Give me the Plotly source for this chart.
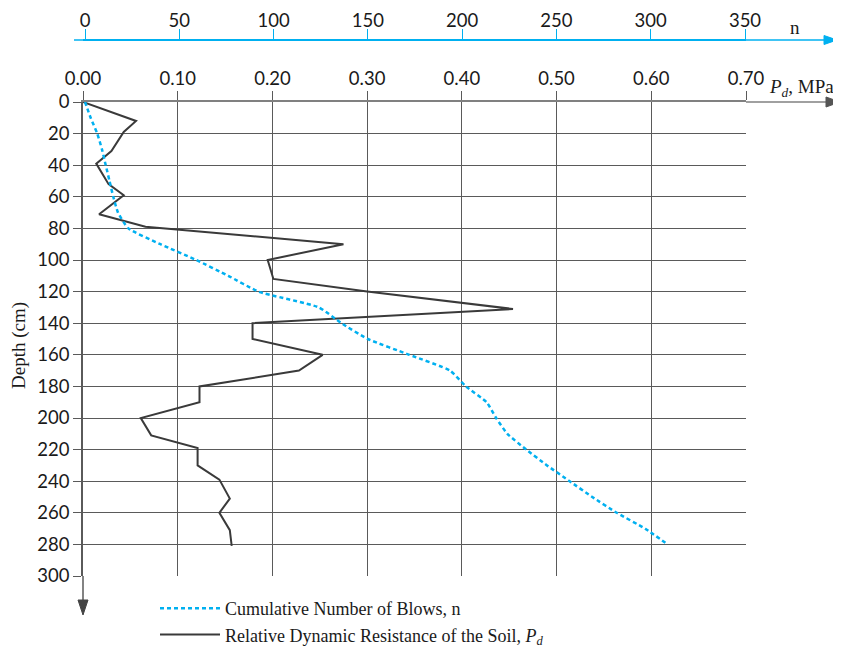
import plotly.graph_objects as go

# relative dynamic resistance Pd (MPa) vs depth (cm)
depth_pd = [0, 12, 19, 31, 39, 52, 59, 71, 79, 90, 100, 112, 120, 131, 140, 150,
            160, 170, 180, 190, 200, 211, 219, 230, 239, 251, 260, 271, 281]
pd_vals = [0.000, 0.056, 0.043, 0.030, 0.014, 0.027, 0.043, 0.017, 0.066, 0.275,
           0.195, 0.201, 0.300, 0.454, 0.179, 0.179, 0.253, 0.228, 0.123, 0.123,
           0.061, 0.072, 0.121, 0.121, 0.144, 0.155, 0.144, 0.155, 0.157]

# cumulative number of blows n vs depth (cm)
depth_n = [0, 10, 20, 30, 40, 50, 60, 70, 80, 90, 100, 110, 120, 130, 140, 150,
           160, 170, 180, 190, 200, 210, 220, 230, 240, 250, 260, 270, 280]
n_vals = [0, 3, 6.5, 9, 11, 13, 15, 17.5, 23, 40, 59, 76, 92, 124, 136, 150,
          172, 193.6, 202, 213, 218, 224, 234, 245, 257, 269, 282, 297, 309]

pd_ticks = [0.0, 0.1, 0.2, 0.3, 0.4, 0.5, 0.6, 0.7]
n_ticks = [0, 50, 100, 150, 200, 250, 300, 350]
depth_ticks = list(range(0, 301, 20))

BLUE = "#00B0F0"
DARK = "#3a3a3a"
GRID = "#5a5a5a"
TICKFONT = dict(family="Lato", size=18.5, color="#1a1a1a")
SERIF = "Liberation Serif"

# the page puts the figure 8px in from the window corner
OFF = 8
W, H = 833, 640
L, R, T, B = 75, 5, 22, 0
def fx(px):
    return (px - OFF - L) / (W - L - R)
def fy(py):
    return 1 - (py - OFF - T) / (H - T - B)

fig = go.Figure()
fig.add_trace(go.Scatter(x=n_vals, y=depth_n, xaxis="x2", yaxis="y", mode="lines",
                         name="Cumulative Number of Blows, n",
                         line=dict(color=BLUE, width=2.5, dash="4px,3px", shape="spline", smoothing=0.5)))
fig.add_trace(go.Scatter(x=pd_vals, y=depth_pd, xaxis="x", yaxis="y", mode="lines",
                         name="Relative Dynamic Resistance of the Soil, <i>P<sub>d</sub></i>",
                         line=dict(color=DARK, width=2)))

n_lo = -2 / 1.8857
n_hi = 350 + 1 / 1.8857

fig.update_layout(
    width=W, height=H,
    margin=dict(l=L, r=R, t=T, b=B, autoexpand=False),
    paper_bgcolor="white", plot_bgcolor="white",
    showlegend=True,
    legend=dict(x=fx(155), y=fy(590), xanchor="left", yanchor="top",
                font=dict(family=SERIF, size=18, color="#1a1a1a"),
                bgcolor="rgba(0,0,0,0)", tracegroupgap=0, itemwidth=60),
    xaxis=dict(domain=[0, fx(746)], range=[0, 0.7], side="top", automargin=False,
               tickvals=pd_ticks, ticktext=[f"{v:.2f}" for v in pd_ticks],
               tickfont=TICKFONT, ticks="outside", ticklen=9, tickcolor=GRID,
               ticklabelstandoff=-1,
               showline=True, linecolor="#808080", linewidth=1.5,
               showgrid=True, gridcolor=GRID, gridwidth=1, zeroline=False),
    xaxis2=dict(overlaying="x", anchor="free", position=fy(40), side="top", automargin=False,
                range=[n_lo, n_hi], tickvals=n_ticks, tickfont=TICKFONT,
                ticks="outside", ticklen=10, tickcolor=BLUE, tickwidth=1.2,
                ticklabelstandoff=-5,
                showline=True, linecolor=BLUE, linewidth=1.5,
                showgrid=False, zeroline=False),
    yaxis=dict(domain=[fy(576), fy(102)], range=[300, 0], automargin=False,
               tickvals=depth_ticks, tickfont=TICKFONT,
               ticks="outside", ticklen=8, tickcolor=GRID,
               showline=True, linecolor=GRID, linewidth=1.5,
               showgrid=True, gridcolor=GRID, gridwidth=1, zeroline=False),
)

shapes = []
# n axis extensions + arrowhead
shapes.append(dict(type="line", xref="paper", yref="paper", x0=fx(74), x1=fx(84), y0=fy(40), y1=fy(40),
                   line=dict(color=BLUE, width=1.5)))
shapes.append(dict(type="line", xref="paper", yref="paper", x0=fx(745), x1=fx(826), y0=fy(40), y1=fy(40),
                   line=dict(color=BLUE, width=1.5)))
shapes.append(dict(type="path", xref="paper", yref="paper",
                   path=f"M {fx(824)} {fy(35.5)} L {fx(837)} {fy(40)} L {fx(824)} {fy(44.5)} Z",
                   fillcolor=BLUE, line=dict(color=BLUE, width=1)))
# Pd axis extension + arrowhead
shapes.append(dict(type="line", xref="paper", yref="paper", x0=fx(746), x1=fx(828), y0=fy(102), y1=fy(102),
                   line=dict(color="#808080", width=1.5)))
shapes.append(dict(type="path", xref="paper", yref="paper",
                   path=f"M {fx(826)} {fy(97)} L {fx(840)} {fy(102)} L {fx(826)} {fy(107)} Z",
                   fillcolor="#555555", line=dict(color="#555555", width=1)))
# depth axis extension + arrowhead
shapes.append(dict(type="line", xref="paper", yref="paper", x0=fx(83), x1=fx(83), y0=fy(576), y1=fy(602),
                   line=dict(color=GRID, width=1.5)))
shapes.append(dict(type="path", xref="paper", yref="paper",
                   path=f"M {fx(78)} {fy(600)} L {fx(83)} {fy(615)} L {fx(88)} {fy(600)} Z",
                   fillcolor="#444444", line=dict(color="#444444", width=1)))
fig.update_layout(shapes=shapes)

fig.add_annotation(x=fx(795), y=fy(27), xref="paper", yref="paper", text="n", showarrow=False,
                   xanchor="center", yanchor="middle",
                   font=dict(family=SERIF, size=19, color="#1a1a1a"))
fig.add_annotation(x=fx(767), y=fy(88), xref="paper", yref="paper", xanchor="left", yanchor="middle",
                   text="<i>P<sub>d</sub></i>, MPa", showarrow=False,
                   font=dict(family=SERIF, size=19, color="#1a1a1a"))
fig.add_annotation(x=fx(19), y=fy(346), xref="paper", yref="paper", text="Depth (cm)",
                   textangle=-90, showarrow=False, xanchor="center", yanchor="middle",
                   font=dict(family=SERIF, size=19, color="#1a1a1a"))

fig.write_html("out.html")
